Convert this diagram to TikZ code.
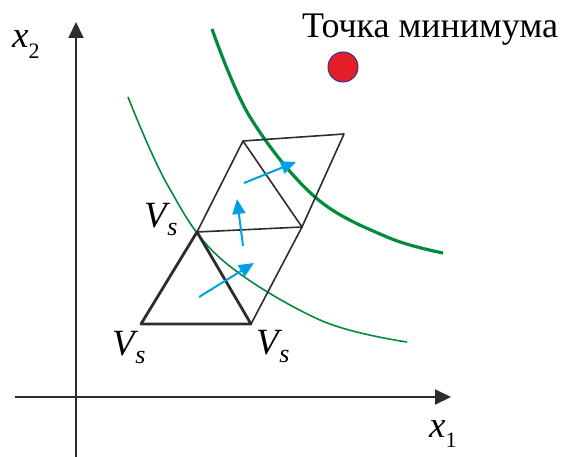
\documentclass[tikz,border=0pt]{standalone}
\usepackage{fontspec}
\setmainfont{Liberation Serif}
\usetikzlibrary{arrows.meta,positioning}

\definecolor{levelgreen}{RGB}{0,140,60}
\definecolor{stepblue}{RGB}{0,160,226}
\definecolor{minred}{RGB}{228,30,38}
\definecolor{minrim}{RGB}{50,50,150}
\definecolor{axisgray}{RGB}{45,45,45}

% italic letter with a lowered italic index
\newcommand{\vlbl}[2]{\textit{#1}\kern-0.08em\raisebox{-0.22em}{\fontsize{26}{26}\selectfont\textit{#2}}}
% italic letter with a lowered upright index
\newcommand{\axlbl}[2]{\textit{#1}\raisebox{-0.28em}{\fontsize{22}{22}\selectfont #2}}

\begin{document}
\begin{tikzpicture}[x=1pt,y=-1pt,
    axis/.style={draw=axisgray,line width=2pt,-{Triangle[length=16pt,width=15pt]}},
    edge/.style={draw=axisgray,line width=1.6pt,line join=round},
    bold edge/.style={draw=axisgray,line width=2.8pt,line join=round},
    level/.style={draw=levelgreen,line width=1.6pt},
    bold level/.style={draw=levelgreen,line width=3.2pt},
    move/.style={draw=stepblue,line width=2pt,-{Triangle[length=15pt,width=13pt]}},
    vtext/.style={inner sep=0pt,anchor=base west,font=\fontsize{37}{37}\selectfont}]

                % Frame of the picture
                \useasboundingbox (0,0) rectangle (567,457);

                % Axes
                \coordinate (xstart) at (15,397);
                \coordinate (xend)   at (451,397);
                \coordinate (ystart) at (76,457);
                \coordinate (yend)   at (76,22);
                \draw[axis] (xstart) -- (xend);
                \draw[axis] (ystart) -- (yend);
                \node[vtext] (xtwo) at (12,48)  {\axlbl{x}{2}};
                \node[vtext] (xone) at (429,437) {\axlbl{x}{1}};

                % Level lines
                \draw[level] plot[smooth,tension=0.6] coordinates
                    {(128,97) (167,184) (220,258) (320,320) (407,342)};
                \draw[bold level] plot[smooth,tension=0.6] coordinates
                    {(212,29) (250,117) (315,197) (387,237) (443,253)};

                % Simplex vertices
                \coordinate (A) at (141,324);
                \coordinate (B) at (251,324);
                \coordinate (C) at (197,232);
                \coordinate (D) at (302,227);
                \coordinate (E) at (243,141);
                \coordinate (F) at (344,134);

                % Reflected simplices
                \draw[edge] (C) -- (E) -- (D) -- cycle;
                \draw[edge] (B) -- (D) -- (F) -- (E);

                % Starting simplex
                \draw[bold edge] (A) -- (B) -- (C) -- cycle;

                % Moves of the centre
                \coordinate (m1s) at (199,297);
                \coordinate (m1e) at (254,263);
                \coordinate (m2s) at (243,246);
                \coordinate (m2e) at (237,199);
                \coordinate (m3s) at (244,183);
                \coordinate (m3e) at (296,162);
                \draw[move] (m1s) -- (m1e);
                \draw[move] (m2s) -- (m2e);
                \draw[move] (m3s) -- (m3e);

                % Vertex labels
                \node[vtext] (lC) at (144,227) {\vlbl{V}{s}};
                \node[vtext] (lA) at (112,355) {\vlbl{V}{s}};
                \node[vtext] (lB) at (256,354) {\vlbl{V}{s}};

                % Minimum point
                \node[circle,fill=minred,draw=minrim,line width=1pt,minimum size=30pt,inner sep=0pt]
                    (minpt) at (343,67) {};
                \node[inner sep=0pt,anchor=base west,font=\fontsize{36}{36}\selectfont]
                    (mintext) at (302,38) {Точка минимума};
            \end{tikzpicture}
\end{document}
